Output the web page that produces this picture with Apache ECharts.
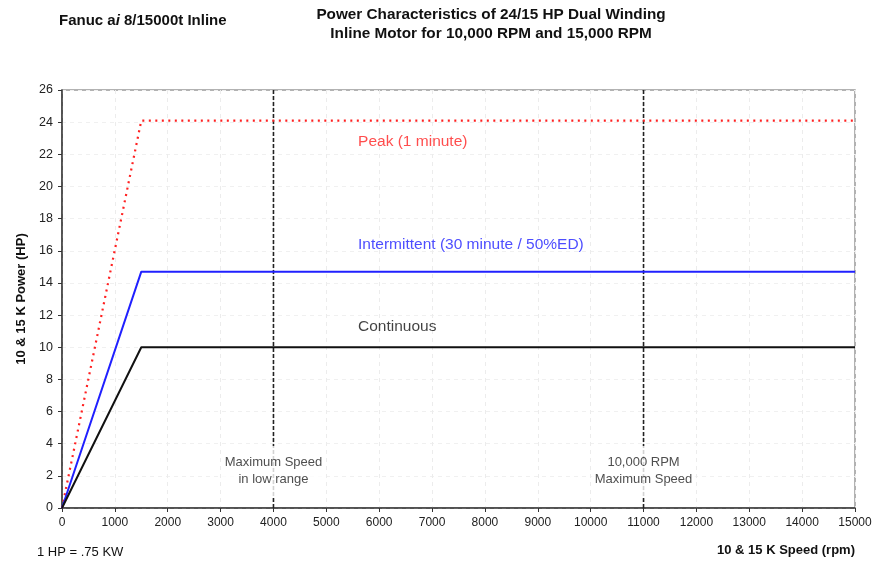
<!DOCTYPE html>
<html><head><meta charset="utf-8">
<script src="https://cdn.jsdelivr.net/npm/echarts@6/dist/echarts.min.js"></script>
<style>html,body{margin:0;padding:0;background:#fff}#c{width:892px;height:564px}</style>
</head><body><div id="c"></div>
<script>
// Data
const speedRpm = [0, 1500, 15000];
const peakHp = [0, 24.1, 24.1];
const intermittentHp = [0, 14.7, 14.7];
const continuousHp = [0, 10, 10];
const markerSpeeds = [4000, 11000];
const markerLabels = ['Maximum Speed\nin low range', '10,000 RPM\nMaximum Speed'];
const markerLabelHp = 2.3;
const curveLabels = ['Peak (1 minute)', 'Intermittent (30 minute / 50%ED)', 'Continuous'];
const curveLabelPos = [[5600, 22.8], [5600, 16.4], [5600, 11.3]];
const curveColors = ['#ff2020', '#2020ff', '#111111'];

const F = 'Liberation Sans, Arial, sans-serif';
const pairs = ys => speedRpm.map((x, i) => [x, ys[i]]);

const series = [];
markerSpeeds.forEach((s, i) => {
  series.push({
    type: 'line', data: [[s, 0], [s, 26]], symbol: 'none', silent: true, z: 1,
    lineStyle: { color: '#222', width: 1.6, type: [4, 2] }
  });
  series.push({
    type: 'scatter', data: [[s, markerLabelHp]], symbolSize: 0, silent: true, z: 5,
    label: { show: true, position: 'inside', formatter: markerLabels[i], color: '#222',
      fontFamily: F, fontSize: 13, lineHeight: 17, align: 'center',
      backgroundColor: '#fff', padding: [8, 3] }
  });
});
series.push({ type: 'line', data: pairs(peakHp), symbol: 'none', z: 3,
  lineStyle: { color: curveColors[0], width: 2.2, type: [2, 4.5] } });
series.push({ type: 'line', data: pairs(intermittentHp), symbol: 'none', z: 3,
  lineStyle: { color: curveColors[1], width: 2 } });
series.push({ type: 'line', data: pairs(continuousHp), symbol: 'none', z: 3,
  lineStyle: { color: curveColors[2], width: 2 } });
curveLabels.forEach((t, i) => {
  series.push({ type: 'scatter', data: [curveLabelPos[i]], symbolSize: 0, silent: true, z: 6,
    label: { show: true, position: 'right', distance: 0, formatter: t, color: curveColors[i],
      fontFamily: F, fontSize: 15.5 } });
});

const chart = echarts.init(document.getElementById('c'));
chart.setOption({
  animation: false,
  backgroundColor: '#fff',
  title: [
    { text: 'Fanuc a{i|i} 8/15000t Inline', left: 54, top: 8,
      textStyle: { fontFamily: F, fontSize: 15, fontWeight: 'bold', color: '#111',
        rich: { i: { fontFamily: F, fontSize: 15, fontWeight: 'bold', fontStyle: 'italic', color: '#111' } } } },
    { text: 'Power Characteristics of 24/15 HP Dual Winding\nInline Motor for 10,000 RPM and 15,000 RPM',
      left: 486, top: 0, textAlign: 'center',
      textStyle: { fontFamily: F, fontSize: 15.3, fontWeight: 'bold', color: '#111', lineHeight: 19, align: 'center' } },
    { text: '1 HP = .75 KW', left: 32, top: 541,
      textStyle: { fontFamily: F, fontSize: 13, fontWeight: 'normal', color: '#111' } }
  ],
  grid: { left: 62, right: 37, top: 90, bottom: 56, show: true, borderColor: '#999', borderWidth: 1.5 },
  xAxis: {
    type: 'value', min: 0, max: 15000, interval: 1000,
    name: '10 & 15 K Speed (rpm)', nameLocation: 'end', nameGap: 0,
    nameTextStyle: { fontFamily: F, fontSize: 13, fontWeight: 'bold', color: '#111',
      align: 'right', verticalAlign: 'top', padding: [36, 0, 0, 0] },
    axisLine: { lineStyle: { color: '#333', width: 1.5 } },
    axisTick: { show: true, length: 4, lineStyle: { color: '#333' } },
    axisLabel: { fontFamily: F, fontSize: 12, color: '#222', margin: 9, formatter: v => String(v) },
    splitLine: { show: true, lineStyle: { color: '#ececec', type: [4, 4] } }
  },
  yAxis: {
    type: 'value', min: 0, max: 26, interval: 2,
    name: '10 & 15 K Power (HP)', nameLocation: 'middle', nameGap: 32, nameRotate: 90,
    nameTextStyle: { fontFamily: F, fontSize: 13, fontWeight: 'bold', color: '#111' },
    axisLine: { show: true, lineStyle: { color: '#333', width: 1.5 } },
    axisTick: { show: true, length: 4, lineStyle: { color: '#333' } },
    axisLabel: { fontFamily: F, fontSize: 12.5, color: '#222', margin: 9 },
    splitLine: { show: true, lineStyle: { color: '#f0f0f0', type: [4, 4] } }
  },
  series: series
});
</script></body></html>
